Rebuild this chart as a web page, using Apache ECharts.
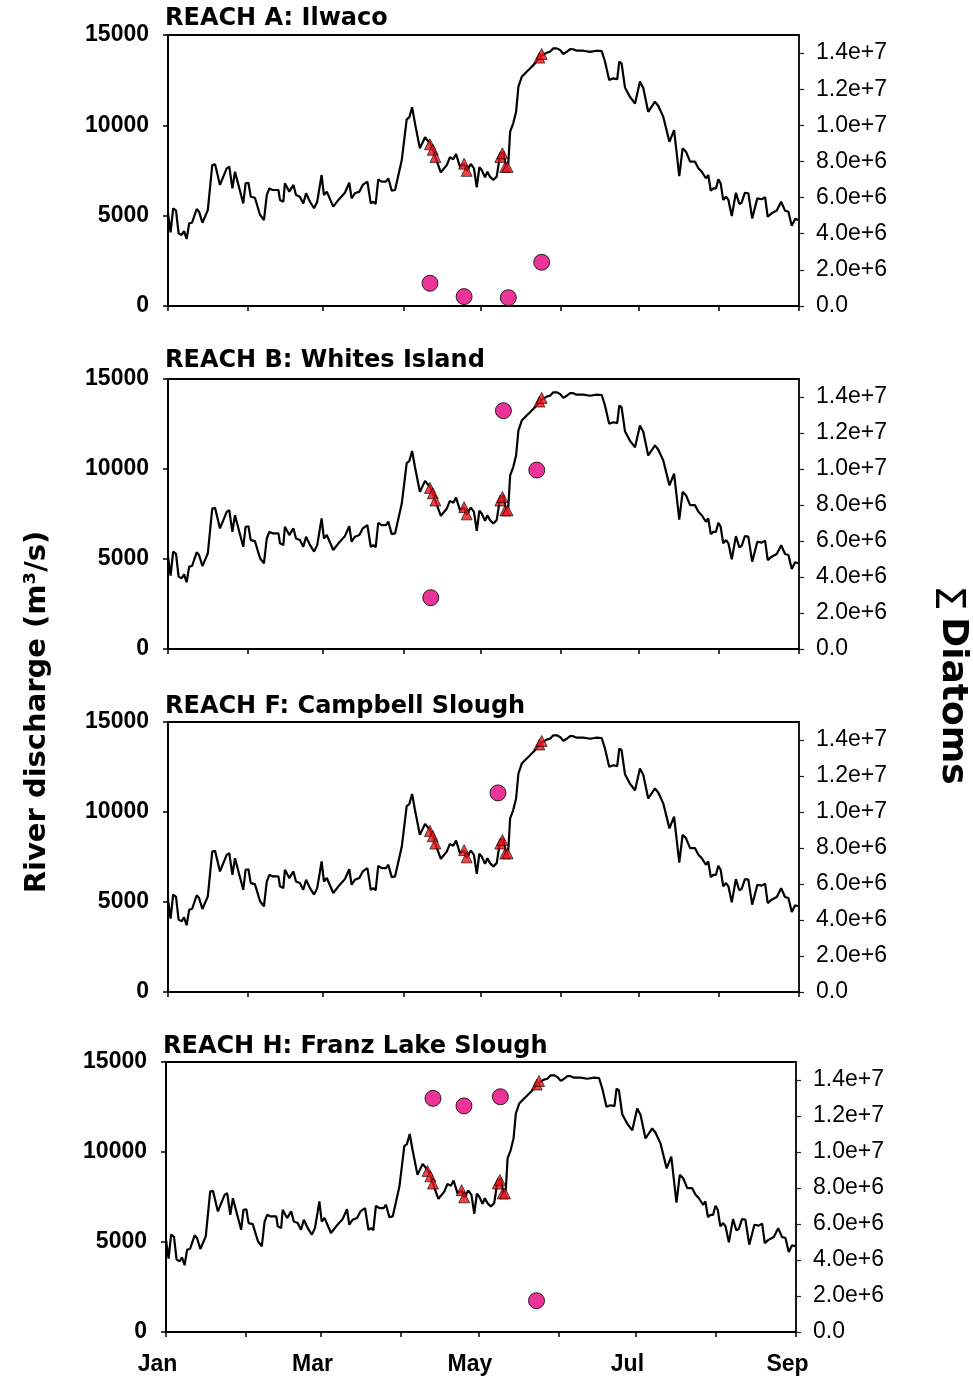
<!DOCTYPE html>
<html><head><meta charset="utf-8">
<script src="https://cdn.jsdelivr.net/npm/echarts@6/dist/echarts.min.js"></script>
<style>html,body{margin:0;padding:0;background:#fff}#c{width:973px;height:1378px}</style>
</head><body><div id="c"></div>
<script>
// ---- DATA ----
const panelTitles = ['REACH A: Ilwaco', 'REACH B: Whites Island', 'REACH F: Campbell Slough', 'REACH H: Franz Lake Slough'];
// river discharge [day of year (0 = Jan 1), m3/s]
const discharge = [[0,5130],[1,4080],[2,5410],[3.1,5280],[4.1,4020],[5.3,3930],[6.2,4150],[7.2,3710],[8.2,4580],[9.3,4610],[11.1,5370],[12,5220],[13.3,4610],[15.4,5310],[17.1,7800],[18.2,7840],[20.1,6700],[22.7,7620],[23.7,7710],[24.9,6510],[25.9,7430],[26.6,7340],[29.1,5680],[30,6790],[31.1,6820],[32,6050],[33.6,5990],[35.6,5040],[37.1,4760],[38.2,6140],[39.2,6510],[40.5,6420],[42.7,6420],[43.3,5870],[44.6,5770],[45.2,6790],[46.9,6330],[48.5,6700],[49.5,6140],[51,6050],[52.3,5680],[53.4,6240],[54.9,5770],[56.5,5410],[57.7,5770],[59.4,7250],[60.3,6140],[61.4,6330],[63.9,5500],[65.9,5870],[68.4,6270],[70.1,6820],[71,5960],[72.3,6240],[74,6330],[75.3,6700],[77.1,6880],[78.4,5680],[79.4,5770],[80.3,5650],[81.3,7010],[82.6,6880],[84.3,6880],[85.2,7070],[86.5,6380],[87.8,6420],[90.4,8080],[92.3,10330],[93.3,10440],[94.4,11000],[95.5,10110],[97.4,8730],[99.4,9340],[101.3,9000],[102.4,8690],[103.4,8230],[105.5,7400],[107.8,7800],[109,8230],[110.3,8120],[111.4,8410],[112.9,7710],[114.5,7860],[115.5,7470],[117.1,7860],[118.3,7620],[119.4,6570],[120.4,7680],[121.3,7530],[122.6,7120],[123.5,7430],[124.5,7160],[125.8,6970],[127.1,7160],[128.4,8360],[129.7,8540],[130.7,7710],[131.6,7900],[132.3,9650],[133.5,10110],[134.6,10750],[135.5,12140],[136.8,12690],[138.7,12970],[140,13150],[141.9,13430],[143.9,13800],[146.4,14020],[147.7,14070],[149,14260],[150.3,14260],[151.6,14170],[152.9,13950],[154.2,14070],[155.5,14220],[156.7,14210],[158,14130],[160.6,14130],[163.2,14070],[165.8,14130],[167.7,14110],[169,13520],[170.6,12510],[172.2,12600],[173.7,12550],[174.5,13520],[175.4,13430],[176.7,12100],[178.6,11580],[180.6,11210],[182.5,12420],[183.8,12050],[185.7,10750],[188.3,11310],[189.6,11070],[191.5,10480],[193.9,9090],[195.7,9740],[197.7,7190],[199,8730],[200.3,8540],[201.9,7990],[203.8,7990],[205.1,7620],[206.4,7430],[207,7530],[208,7070],[208.9,7250],[209.9,6380],[210.9,6510],[211.9,6510],[212.8,7010],[213.7,6790],[214.7,5870],[215.8,6050],[216.7,5870],[218,4980],[219.6,6270],[220.9,5650],[221.8,5720],[223.1,6270],[224.4,6240],[225.9,4850],[227.9,5960],[229.6,5910],[230.9,6020],[231.9,4940],[233.4,5130],[235.4,5280],[237.1,5770],[238.6,5280],[239.9,5220],[241.2,4440],[242.5,4820],[243.8,4760]];
// sampling dates on the discharge curve (triangles)
const samplingMarks = [[101.3,8950],[102.4,8650],[103.4,8250],[114.5,7880],[115.5,7480],[128.5,8250],[129.3,8450],[130.4,7700],[131.3,7700],[143.6,13750],[144.5,13950]];
// sum of diatoms (right axis), per reach
const diatomsA = [[101.3,1.26e6],[114.5,0.52e6],[131.6,0.46e6],[144.5,2.42e6]];
const diatomsB = [[101.6,2.85e6],[129.7,13.24e6],[142.6,9.94e6]];
const diatomsF = [[127.6,11.06e6]];
const diatomsH = [[103.4,12.98e6],[115.4,12.56e6],[129.5,13.07e6],[143.5,1.74e6]];
const monthTickDays = [0,31,60,91,121,152,182,213,244];
const monthLabelDays = [0,60,121,182,244];
const monthLabels = ['Jan','Mar','May','Jul','Sep'];
const leftTicks = [0,5000,10000,15000];
const rightTicks = [0,2e6,4e6,6e6,8e6,1e7,1.2e7,1.4e7];

// ---- LAYOUT ----
const grids = [
  {left:168, top:35, width:631, height:271},
  {left:168, top:379, width:631, height:270},
  {left:168, top:722, width:631, height:270},
  {left:166, top:1062, width:630, height:270}
];
const titlePos = [[165,19],[165,361],[165,707],[163,1047]];
const diatomSets = [diatomsA, diatomsB, diatomsF, diatomsH];

const option = {
  animation:false,
  backgroundColor:'#fff',
  grid: grids.map(g => Object.assign({show:true, borderColor:'#000', borderWidth:2, containLabel:false}, g)),
  xAxis: grids.map((g,i) => ({
    type:'value', gridIndex:i, min:0, max:244,
    axisLine:{show:true, onZero:false, lineStyle:{color:'#000', width:2}},
    axisTick:{show:true, inside:false, length:5, customValues:monthTickDays, lineStyle:{color:'#000', width:1.5}},
    axisLabel:{show:i===3, customValues:monthLabelDays, margin:21, padding:[0,17,0,0],
      formatter: v => { const k = monthLabelDays.indexOf(v); return k>=0 ? monthLabels[k] : ''; },
      color:'#000', fontFamily:'Liberation Sans', fontWeight:'bold', fontSize:23},
    splitLine:{show:false}
  })),
  yAxis: [].concat(...grids.map((g,i) => [
    {type:'value', gridIndex:i, min:0, max:15000, interval:5000, position:'left',
     axisLine:{show:true, lineStyle:{color:'#000', width:2}},
     axisTick:{show:true, length:5, customValues:leftTicks, lineStyle:{color:'#000', width:1.5}},
     axisLabel:{margin:19, customValues:leftTicks, color:'#000', fontFamily:'Liberation Sans', fontWeight:'bold', fontSize:23,
       formatter: v => String(v)},
     splitLine:{show:false}},
    {type:'value', gridIndex:i, min:0, max:1.5e7, position:'right',
     axisLine:{show:true, lineStyle:{color:'#222', width:1.5}},
     axisTick:{show:true, length:5, customValues:rightTicks, lineStyle:{color:'#222', width:1.2}},
     axisLabel:{margin:17, customValues:rightTicks, color:'#000', fontFamily:'Liberation Sans', fontSize:23,
       formatter: v => v === 0 ? '0.0' : v.toExponential(1)},
     splitLine:{show:false}}
  ])),
  series: [].concat(...grids.map((g,i) => [
    {type:'line', xAxisIndex:i, yAxisIndex:2*i, data:discharge, showSymbol:false, symbol:'none',
     lineStyle:{color:'#000', width:2.2}, z:2},
    {type:'scatter', xAxisIndex:i, yAxisIndex:2*i, data:samplingMarks, symbol:'triangle', symbolSize:11,
     itemStyle:{color:'#e8141c', borderColor:'#000', borderWidth:0.8}, z:3},
    {type:'scatter', xAxisIndex:i, yAxisIndex:2*i+1, data:diatomSets[i], symbol:'circle', symbolSize:16,
     itemStyle:{color:'#e6007e', borderColor:'#000', borderWidth:1}, z:4}
  ])),
  graphic: [
    ...panelTitles.map((t,i) => ({type:'text', x:titlePos[i][0], y:titlePos[i][1],
      style:{text:t, fill:'#000', font:'bold 24px "DejaVu Sans"', align:'left', verticalAlign:'middle'}})),
    {type:'text', x:37, y:712, rotation:Math.PI/2,
      style:{text:'River discharge (m³/s)', fill:'#000', font:'bold 29px "DejaVu Sans"', align:'center', verticalAlign:'middle'}},
    {type:'text', x:946, y:598, rotation:-Math.PI/2,
      style:{text:'Σ', fill:'#000', font:'40px "DejaVu Sans"', align:'center', verticalAlign:'middle'}},
    {type:'text', x:952, y:701, rotation:-Math.PI/2,
      style:{text:'Diatoms', fill:'#000', font:'bold 36px "DejaVu Sans"', align:'center', verticalAlign:'middle'}}
  ]
};
const chart = echarts.init(document.getElementById('c'), null, {renderer:'canvas'});
chart.setOption(option);
</script></body></html>
